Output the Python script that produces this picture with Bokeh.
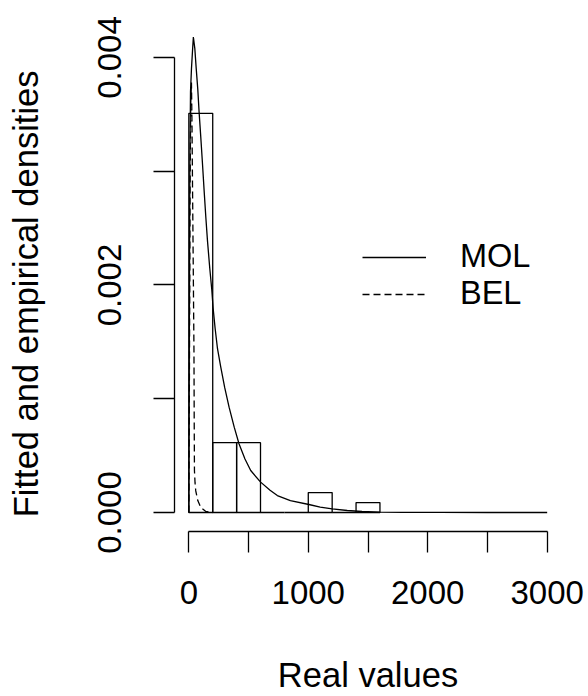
from bokeh.plotting import figure
from bokeh.models import FixedTicker, Range1d, Legend, LegendItem
from bokeh.embed import file_html
from bokeh.resources import INLINE

# Histogram bins (empirical density)
bin_left = [0, 200, 400, 600, 800, 1000, 1200, 1400]
bin_right = [200, 400, 600, 800, 1000, 1200, 1400, 1600]
bin_density = [0.003509, 0.000614, 0.000614, 0.0, 0.0, 0.000175, 0.0, 0.0000877]

# Fitted density MOL (solid)
mol_x = [0, 4, 8, 14, 22, 32, 38, 50, 62, 75, 86, 100, 114, 128, 142, 156, 175, 192,
         203, 220, 240, 267, 300, 337, 380, 420, 470, 518, 601, 680, 741, 850, 1005,
         1100, 1200, 1326, 1450, 1600, 1800, 2100, 2500, 3000]
mol_y = [0.0, 0.0015, 0.0030, 0.0037, 0.0039, 0.00408, 0.00418, 0.00408, 0.0039,
         0.00372, 0.00352, 0.0033, 0.00307, 0.00283, 0.0026, 0.00239, 0.00215, 0.00196,
         0.0018, 0.00162, 0.00144, 0.00128, 0.0011, 0.000926, 0.00075, 0.000604,
         0.00047, 0.000369, 0.000267, 0.000195, 0.000149, 0.000105, 0.0000703,
         0.000048, 0.0000323, 0.0000176, 0.000009, 0.000004, 0.0000015, 0.0000005,
         0.0000001, 0.0]

# Fitted density BEL (dashed)
bel_x = [0, 5, 10, 16, 22, 26, 32, 38, 43, 45, 47, 52, 58, 75, 100, 140, 200]
bel_y = [0.0, 0.0012, 0.0028, 0.0036, 0.00378, 0.00345, 0.00274, 0.00204, 0.00142,
         0.00081, 0.00037, 0.00026, 0.00019, 0.000105, 0.000044, 0.00001, 0.0]

x_ticks = [0, 500, 1000, 1500, 2000, 2500, 3000]
x_tick_labels = ["0", "", "1000", "", "2000", "", "3000"]
y_ticks = [0.0, 0.001, 0.002, 0.003, 0.004]
y_tick_labels = ["0.000", "", "0.002", "", "0.004"]

x_title = "Real values"
y_title = "Fitted and empirical densities"

FONT = "Liberation Sans"

p = figure(width=586, height=696, output_backend="svg", toolbar_location=None,
           x_range=Range1d(-120, 3120), y_range=Range1d(-0.000167, 0.0042637),
           min_border_left=174, min_border_right=25, min_border_top=27,
           min_border_bottom=165)
p.outline_line_color = None
p.grid.visible = False
p.background_fill_color = "white"
p.border_fill_color = "white"

p.quad(left=bin_left, right=bin_right, bottom=0, top=bin_density,
       fill_color=None, line_color="black", line_width=1.3)
r_mol = p.line(mol_x, mol_y, line_color="black", line_width=1.3)
r_bel = p.line(bel_x, bel_y, line_color="black", line_width=1.3, line_dash="7 4")

# X axis
xa = p.xaxis[0]
xa.ticker = FixedTicker(ticks=x_ticks)
xa.major_label_overrides = {t: l for t, l in zip(x_ticks, x_tick_labels)}
xa.bounds = (x_ticks[0], x_ticks[-1])
xa.axis_label = x_title
# Y axis
ya = p.yaxis[0]
ya.ticker = FixedTicker(ticks=y_ticks)
ya.major_label_overrides = {t: l for t, l in zip(y_ticks, y_tick_labels)}
ya.bounds = (y_ticks[0], y_ticks[-1])
ya.major_label_orientation = "vertical"
# trailing spaces nudge the centred title towards the bottom, as in the reference
ya.axis_label = y_title + "   "

for ax in (xa, ya):
    ax.axis_line_color = "black"
    ax.axis_line_width = 1.3
    ax.major_tick_line_color = "black"
    ax.major_tick_line_width = 1.3
    ax.major_tick_in = 0
    ax.major_tick_out = 21
    ax.minor_tick_in = 0
    ax.minor_tick_out = 0
    ax.major_label_text_font = FONT
    ax.major_label_text_font_size = "33px"
    ax.major_label_text_color = "black"
    ax.axis_label_text_font = FONT
    ax.axis_label_text_font_size = "34.5px"
    ax.axis_label_text_font_style = "normal"
    ax.axis_label_text_color = "black"

xa.major_label_standoff = 28
xa.axis_label_standoff = 49
ya.major_label_standoff = 32
ya.axis_label_standoff = 51

legend = Legend(items=[LegendItem(label="MOL", renderers=[r_mol]),
                       LegendItem(label="BEL", renderers=[r_bel])],
                location=(188, 219), orientation="vertical",
                border_line_alpha=0, background_fill_alpha=0,
                padding=0, margin=0, spacing=-4,
                glyph_width=64, glyph_height=32, label_height=32,
                label_standoff=34, label_text_font=FONT,
                label_text_font_size="32.5px", label_text_color="black")
p.add_layout(legend)

open("out.html", "w").write(file_html(p, INLINE))
